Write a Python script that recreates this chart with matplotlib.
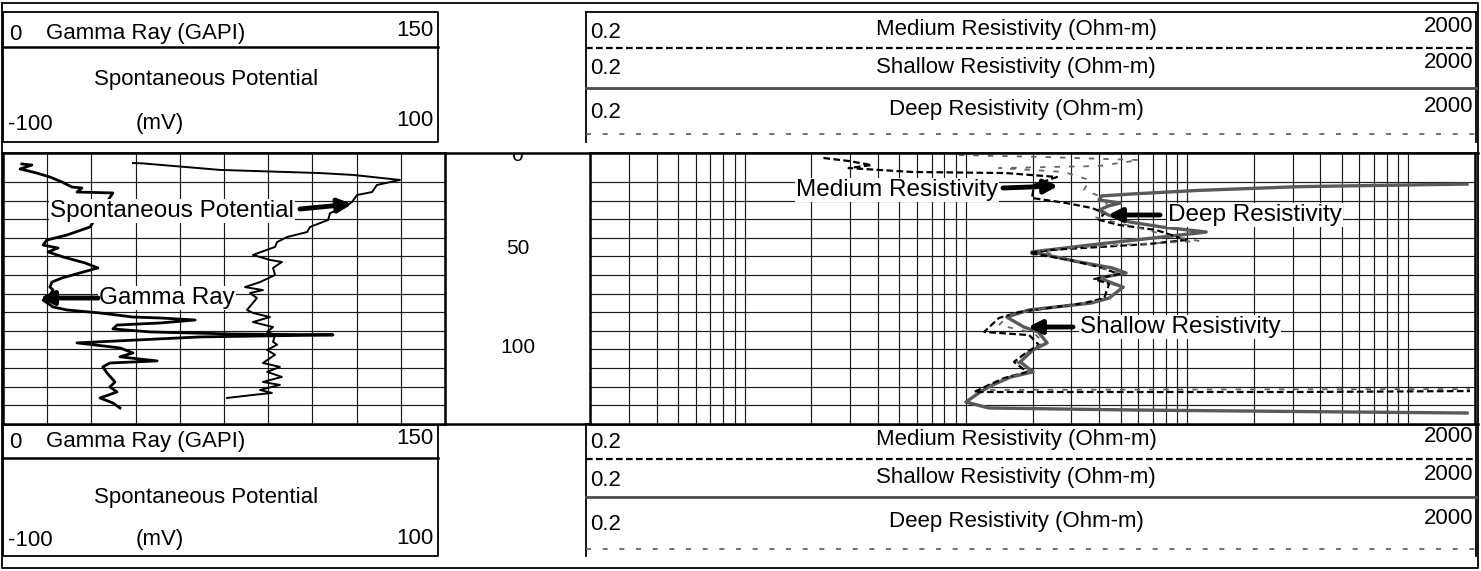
import numpy as np
import matplotlib.pyplot as plt

plt.rcParams['font.family'] = ['Liberation Sans', 'DejaVu Sans']

# depth labels in the middle column
depth_labels = [0, 50, 100]

# gamma ray (GAPI), left track
gr_depth = [0.3, 0.9, 3.0, 5.2, 7.3, 10.0, 12.7, 13.2, 15.4, 15.6, 15.9, 34.2, 38.5, 41.2,
            43.9, 45.5, 47.6, 50.3, 53.5, 56.2, 58.9, 61.6, 63.8, 66.5, 68.1, 70.8, 73.5,
            77.2, 78.8, 80.4, 82.6, 83.1, 84.2, 85.8, 86.9, 89.0, 90.6, 91.7, 92.2, 93.3,
            96.5, 99.2, 101.9, 104.0, 106.2, 107.3, 109.4, 112.7, 117.5, 120.2, 122.9,
            126.1, 128.8, 131.5]
gr_value = [6.4, 9.8, 5.8, 11.5, 15.9, 20.0, 23.4, 26.8, 25.1, 30.5, 37.3, 29.5, 21.7, 14.9,
            13.6, 18.7, 15.3, 20.4, 27.8, 32.2, 26.1, 20.0, 16.6, 15.9, 17.0, 15.9, 13.6,
            17.0, 21.7, 32.9, 44.1, 53.3, 65.2, 53.3, 38.7, 37.3, 49.9, 77.0, 112.0, 66.8,
            25.1, 39.7, 44.1, 39.7, 52.3, 36.3, 33.9, 35.3, 38.0, 36.3, 38.7, 32.9, 37.3, 39.7]

# spontaneous potential (mV), left track
sp_depth = [-0.2, 0.0, 3.5, 5.2, 6.2, 8.9, 11.6, 15.4, 17.0, 20.8, 24.0, 26.7, 30.4, 34.2,
            36.9, 39.6, 42.3, 44.9, 49.2, 51.9, 53.0, 56.2, 60.0, 63.8, 66.5, 68.1, 69.7,
            72.4, 78.8, 80.4, 82.6, 85.3, 88.0, 90.6, 92.2, 95.9, 97.5, 100.3, 102.9,
            107.3, 109.4, 112.1, 114.8, 117.5, 119.1, 121.8, 123.4, 124.5, 126.1]
sp_value = [-41.2, -36.7, -1.8, 43.4, 58.4, 79.6, 69.2, 67.0, 60.2, 57.9, 53.8, 48.0, 47.1,
            38.9, 37.6, 28.5, 24.0, 23.1, 13.1, 20.8, 26.2, 22.2, 23.1, 16.3, 9.5, 17.6,
            11.8, 14.9, 10.4, 13.1, 20.8, 13.1, 22.2, 19.5, 23.1, 22.2, 24.0, 19.5, 23.1,
            17.6, 25.3, 19.5, 26.2, 17.6, 25.3, 16.3, 21.7, 13.1, 1.4]

# shallow resistivity (ohm-m)
sh_depth = [11.1, 12.5, 14.5, 16.5, 17.5, 19.7, 21.3, 22.9, 25.1, 27.7, 31.5, 34.2, 36.9,
            39.6, 43.3, 47.6, 53.0, 56.2, 58.9, 61.6, 64.3, 66.5, 72.4, 75.1, 78.8, 82.6,
            88.0, 90.6, 96.5, 100.3, 106.7, 112.1, 114.8, 119.1, 122.9, 128.3, 131.5,
            132.6, 133.7, 134.2]
sh_value = [1841, 322, 113, 55, 41, 40, 50, 44, 40, 44, 55, 77, 122, 77, 40, 19.9, 32.5,
            45.8, 53, 40, 45.8, 51.4, 44.4, 36.8, 19.3, 15.3, 18.3, 21.2, 23.3, 20.1, 17.6,
            20.1, 16.0, 13.2, 11.6, 10.0, 12.7, 58.9, 603, 1841]

# medium resistivity (ohm-m)
md_depth = [-2.9, -1.3, 0.9, 2.5, 4.6, 5.2, 7.3, 11.6, 18.6, 21.3, 24.0, 26.7, 30.4, 33.1,
            35.8, 41.2, 43.3, 46.6, 48.2, 51.9, 55.7, 59.5, 62.2, 64.8, 72.4, 75.1, 79.9,
            83.1, 90.6, 92.3, 97.6, 101.4, 106.7, 112.1, 115.4, 119.1, 122.9, 122.9, 122.4]
md_value = [2.27, 2.95, 3.75, 2.95, 5.69, 15.2, 25.8, 20.3, 19.9, 28.4, 37.2, 42.2, 40,
            49.3, 72.4, 99, 67.5, 23.8, 19.3, 29.3, 40, 49.3, 38, 44.4, 42.2, 34.2, 17.4,
            14.1, 12.1, 19.3, 21.4, 18.9, 16.5, 18.9, 14.9, 12.7, 10.9, 322, 1897]

# deep resistivity (ohm-m)
dp_depth = [-4.5, -3.4, -1.8, 1.4, 2.5, 4.6, 8.9, 14.3, 18.6, 25.1, 28.8, 31.5, 34.7, 39.0,
            41.7, 44.4, 46.6, 50.9, 55.2, 58.4, 62.2, 65.4, 71.8, 74.5, 78.3, 81.5, 86.9,
            91.2, 96.5, 100.9, 106.7, 112.1, 114.8, 119.1, 121.8, 121.3]
dp_value = [9.3, 23.0, 60.7, 40, 14.1, 27.8, 36.1, 34.2, 42.2, 44.4, 38.0, 46.8, 60.7, 83,
            113.5, 40, 21.4, 27.8, 38.0, 48.3, 40.8, 46.8, 45.4, 38.0, 21.4, 15.7, 14.1,
            20.3, 22.5, 19.3, 17.0, 19.3, 15.7, 13.0, 12.1, 1897]

W, H = 1481, 571
fig = plt.figure(figsize=(W / 100, H / 100), dpi=100)


def rect(x0, y0, x1, y1):
    return [x0 / W, 1 - y1 / H, (x1 - x0) / W, (y1 - y0) / H]


page = fig.add_axes([0, 0, 1, 1])
page.set_xlim(0, W)
page.set_ylim(H, 0)
page.axis('off')

FS = 16
LX0, LX1 = 3, 438     # left header block
RX0, RX1 = 586, 1476  # right header block


def header(t, lrows, rrows, lines, bottom):
    # lrows: y of gamma row, its rule, SP row, mV row; rrows: y of the three resistivity rows
    g, gl, s, m = lrows
    page.plot([LX0, LX1, LX1, LX0, LX0], [t, t, bottom, bottom, t], color='k', lw=1.3)
    page.plot([LX0, LX1], [gl, gl], color='k', lw=1.8)
    page.text(LX0 + 6, g + 1, '0', fontsize=FS, va='center')
    page.text(146, g, 'Gamma Ray (GAPI)', fontsize=FS, va='center', ha='center')
    page.text(LX1 - 4, g - 2, '150', fontsize=FS, va='center', ha='right')
    page.text(206, s, 'Spontaneous Potential', fontsize=FS, va='center', ha='center')
    page.text(LX0 + 5, m + 1, '-100', fontsize=FS, va='center')
    page.text(160, m, '(mV)', fontsize=FS, va='center', ha='center')
    page.text(LX1 - 4, m - 2, '100', fontsize=FS, va='center', ha='right')
    page.plot([RX0, RX0], [t, bottom], color='k', lw=1.3)
    page.plot([RX1, RX1], [t, bottom], color='k', lw=1.3)
    page.plot([RX0, RX1], [t, t], color='k', lw=1.3)
    names = ['Medium Resistivity (Ohm-m)', 'Shallow Resistivity (Ohm-m)',
             'Deep Resistivity (Ohm-m)']
    for name, yy in zip(names, rrows):
        page.text(RX0 + 4, yy + 2, '0.2', fontsize=FS, va='center')
        page.text(1016, yy, name, fontsize=FS, va='center', ha='center')
        page.text(RX1 - 3, yy - 4, '2000', fontsize=FS, va='center', ha='right')
    page.plot([RX0, RX1], [lines[0]] * 2, color='k', lw=1.6, ls=(0, (3, 1.5)))
    page.plot([RX0, RX1], [lines[1]] * 2, color='0.3', lw=2.0)
    page.plot([RX0, RX1], [lines[2]] * 2, color='0.35', lw=1.2, ls=(0, (3, 7)))


TOP, BOT = 153, 424

# outer frame and the rules above / below the tracks
page.plot([2, W - 3, W - 3, 2, 2], [3, 3, H - 3, H - 3, 3], color='k', lw=1.3)
page.plot([2, W - 3], [TOP, TOP], color='k', lw=1.8)
page.plot([2, W - 3], [BOT, BOT], color='k', lw=1.8)
header(12, (33, 47, 80, 123), (30, 67, 110), (48, 88, 134), 142)
header(BOT, (441, 458, 497, 540), (440, 478, 522), (459, 497, 549), 556)

Y0, PX = 163.4, 1.86
dtop, dbot = (TOP - Y0) / PX, (BOT - Y0) / PX

# left track
axl = fig.add_axes(rect(3, TOP, 445, BOT))
axl.set_xlim(0, 150)
axl.set_ylim(dbot, dtop)
axl.set_xticks(np.linspace(0, 150, 11))
axl.set_yticks(np.arange(10, 140, 10))
axl.grid(True, color='0.1', lw=0.85)
axl.tick_params(length=0, labelbottom=False, labelleft=False)
for s in axl.spines.values():
    s.set_linewidth(1.8)
axl.plot(gr_value, gr_depth, color='k', lw=2.0)
axs = axl.twiny()
axs.set_xlim(-100, 100)
axs.set_ylim(dbot, dtop)
axs.axis('off')
axs.plot(sp_value, sp_depth, color='k', lw=1.4)

# middle column
axm = fig.add_axes(rect(445, TOP, 590, BOT))
axm.set_xlim(0, 1)
axm.set_ylim(dbot, dtop)
axm.axis('off')
label_shift = {0: -4.0, 50: -4.5, 100: -1.0}
for d in depth_labels:
    axm.text(0.5, d + label_shift[d], str(d), fontsize=15, ha='center', va='center',
             clip_on=True)

# right track
axr = fig.add_axes(rect(590, TOP, 1475, BOT))
axr.set_xscale('log')
axr.set_xlim(0.2, 2000)
axr.set_ylim(dbot, dtop)
minor = [m * 10.0 ** e for e in range(-1, 4) for m in range(1, 10)]
minor = [v for v in minor if 0.2 <= v <= 2000]
axr.set_xticks(minor)
axr.set_xticks([], minor=True)
axr.set_yticks(np.arange(10, 140, 10))
axr.grid(True, color='0.1', lw=0.85)
axr.tick_params(length=0, labelbottom=False, labelleft=False)
for s in axr.spines.values():
    s.set_linewidth(1.8)
axr.plot(sh_value, sh_depth, color='0.35', lw=2.4)
axr.plot(md_value, md_depth, color='k', lw=1.6, ls=(0, (3, 1.5)))
axr.plot(dp_value, dp_depth, color='0.4', lw=1.3, ls=(0, (3, 5)))

# curve labels with arrows
over = fig.add_axes([0, 0, 1, 1])
over.set_xlim(0, W)
over.set_ylim(H, 0)
over.axis('off')
over.patch.set_alpha(0)
LFS = 17.5
bb = dict(fc='white', ec='none', pad=0.5)
ap = dict(arrowstyle='-|>,head_length=0.8,head_width=0.4', lw=3.5, color='k',
          shrinkA=0, shrinkB=0)
labels = [
    ('Spontaneous Potential', 172, 211, 300, 209, 352, 204),
    ('Gamma Ray', 167, 298, 98, 298, 40, 298),
    ('Medium Resistivity', 897, 190, 1003, 188, 1058, 186),
    ('Deep Resistivity', 1255, 215, 1160, 215, 1108, 215),
    ('Shallow Resistivity', 1180, 327, 1073, 327, 1028, 327),
]
for txt, tx, ty, ax0, ay0, ax1, ay1 in labels:
    over.text(tx, ty, txt, fontsize=LFS, ha='center', va='center', bbox=bb)
    over.annotate('', xy=(ax1, ay1), xytext=(ax0, ay0), arrowprops=ap)

fig.savefig('out.png', dpi=100)
